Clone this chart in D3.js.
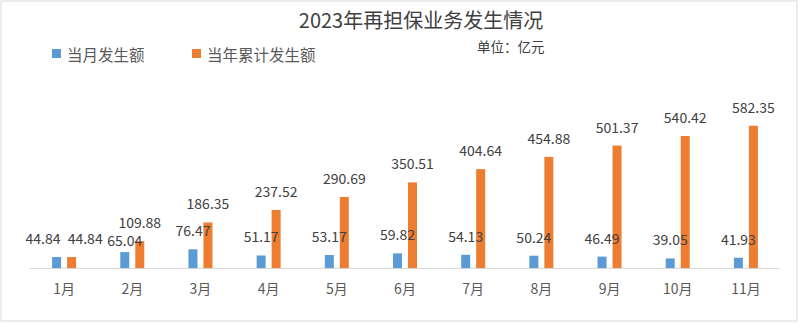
<!DOCTYPE html>
<html>
<head>
<meta charset="utf-8">
<script src="https://cdn.jsdelivr.net/npm/d3@7"></script>
<style>
  html, body { margin: 0; padding: 0; background: #fff; }
  svg { display: block; }
  text { font-family: "Noto Sans CJK SC", "Noto Sans", sans-serif; }
</style>
</head>
<body>
<svg id="chart" width="800" height="324"></svg>
<script>
const title = "2023年再担保业务发生情况";
const unitLabel = "单位：亿元";
const categories = ["1月","2月","3月","4月","5月","6月","7月","8月","9月","10月","11月"];
const seriesNames = ["当月发生额","当年累计发生额"];
const monthly = [44.84, 65.04, 76.47, 51.17, 53.17, 59.82, 54.13, 50.24, 46.49, 39.05, 41.93];
const cumulative = [44.84, 109.88, 186.35, 237.52, 290.69, 350.51, 404.64, 454.88, 501.37, 540.42, 582.35];
const colors = ["#5B9BD5", "#ED7D31"];

const svg = d3.select("#chart");
const W = 800, H = 324;

// outer border
svg.append("rect").attr("x", 1).attr("y", 1).attr("width", 796).attr("height", 320)
  .attr("fill", "#fff").attr("stroke", "#d9d9d9").attr("stroke-width", 1);

// title
svg.append("text").attr("x", 421).attr("y", 19).attr("text-anchor", "middle")
  .attr("dominant-baseline", "central").attr("font-size", 20).attr("fill", "#404040")
  .text(title);

// unit
svg.append("text").attr("x", 477).attr("y", 46).attr("dominant-baseline", "central")
  .attr("font-size", 13.5).attr("fill", "#404040").text(unitLabel);

// legend
const legendPos = [{x: 52, tx: 67}, {x: 192, tx: 207}];
seriesNames.forEach((name, i) => {
  svg.append("rect").attr("x", legendPos[i].x).attr("y", 49).attr("width", 9).attr("height", 9)
    .attr("fill", colors[i]);
  svg.append("text").attr("x", legendPos[i].tx).attr("y", 54).attr("dominant-baseline", "central")
    .attr("font-size", 15.5).attr("fill", "#595959").text(name);
});

// scales
const x0 = d3.scaleBand().domain(categories).range([30, 780]).padding(0);
const bw = x0.bandwidth();
const x1 = d3.scaleBand().domain([0, 1]).range([bw / 2 - 15, bw / 2 + 15])
  .paddingInner(0.4).paddingOuter(0.2);
const y = d3.scaleLinear().domain([0, 700]).range([268, 97]);

const data = categories.map((c, i) => ({ cat: c, vals: [monthly[i], cumulative[i]] }));

const g = svg.append("g");
const groups = g.selectAll("g.grp").data(data).join("g").attr("class", "grp")
  .attr("transform", d => `translate(${x0(d.cat)},0)`);

groups.selectAll("rect").data(d => d.vals.map((v, k) => ({ v, k }))).join("rect")
  .attr("x", d => x1(d.k)).attr("width", x1.bandwidth())
  .attr("y", d => y(d.v)).attr("height", d => y(0) - y(d.v))
  .attr("fill", d => colors[d.k]);

// axis line
svg.append("line").attr("x1", 30).attr("x2", 780).attr("y1", y(0) + 0.5).attr("y2", y(0) + 0.5)
  .attr("stroke", "#d9d9d9").attr("stroke-width", 1);

// x axis labels
const xAxis = d3.axisBottom(x0).tickSize(0).tickPadding(0);
const ax = svg.append("g").attr("transform", `translate(0,${y(0)})`).call(xAxis);
ax.select(".domain").remove();
ax.selectAll("text").attr("font-size", 14).attr("fill", "#595959")
  .attr("font-family", "Noto Sans CJK SC").attr("dy", null).attr("y", 20)
  .attr("dominant-baseline", "central");

// data labels with simple collision handling
const fmt = d3.format(".2f");
const charW = 14 * 0.56;
data.forEach(d => {
  const base = x0(d.cat);
  const labs = d.vals.map((v, k) => {
    const txt = fmt(v);
    return { txt, k, cx: base + x1(k) + x1.bandwidth() / 2, cy: y(v) - 19,
             w: txt.length * charW - 3 };
  });
  const [a, b] = labs;
  const hOverlap = (a.w + b.w) / 2 - Math.abs(b.cx - a.cx);
  const dy = Math.abs(a.cy - b.cy);
  if (hOverlap > 0 && dy < 14) {
    if (dy < 5) {
      const s = (hOverlap + 6) / 2;
      a.cx -= s; b.cx += s;
    } else {
      const lower = a.cy > b.cy ? a : b, upper = lower === a ? b : a;
      lower.cy = upper.cy + 18;
    }
  }
  labs.forEach(l => {
    svg.append("text").attr("x", l.cx).attr("y", l.cy).attr("text-anchor", "middle")
      .attr("dominant-baseline", "central").attr("font-size", 14).attr("fill", "#404040")
      .text(l.txt);
  });
});
</script>
</body>
</html>
